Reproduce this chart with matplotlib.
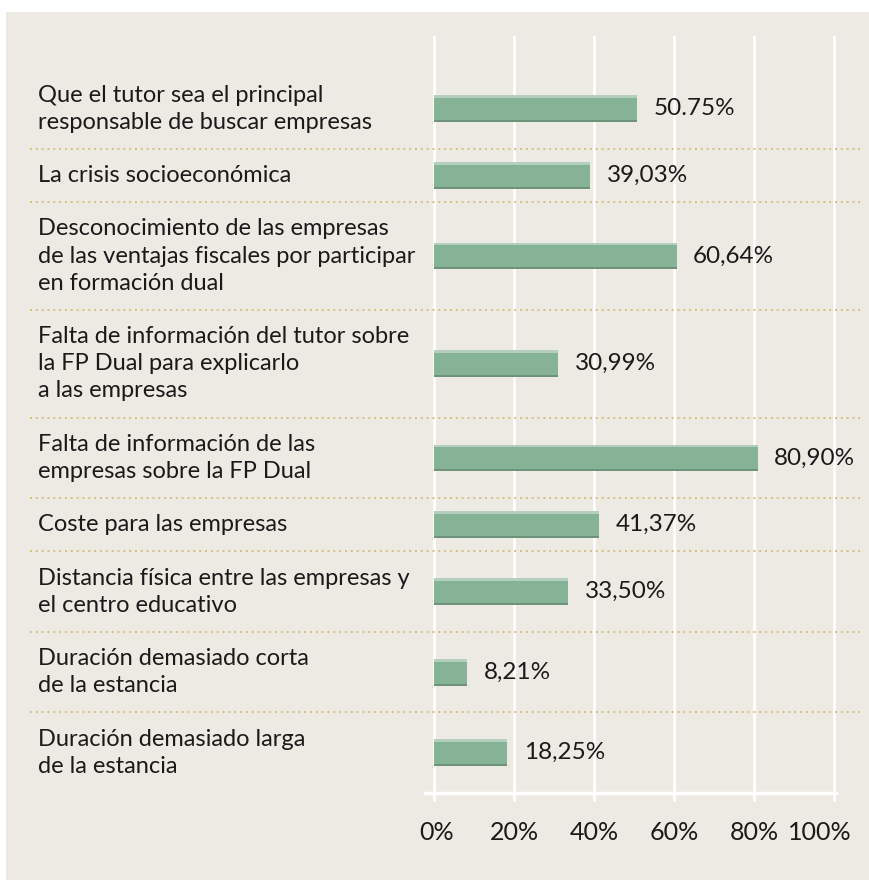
import matplotlib.pyplot as plt
from matplotlib.patches import Rectangle
from matplotlib.transforms import blended_transform_factory, ScaledTranslation

# data
categories = [
    "Que el tutor sea el principal\nresponsable de buscar empresas",
    "La crisis socioeconómica",
    "Desconocimiento de las empresas\nde las ventajas fiscales por participar\nen formación dual",
    "Falta de información del tutor sobre\nla FP Dual para explicarlo\na las empresas",
    "Falta de información de las\nempresas sobre la FP Dual",
    "Coste para las empresas",
    "Distancia física entre las empresas y\nel centro educativo",
    "Duración demasiado corta\nde la estancia",
    "Duración demasiado larga\nde la estancia",
]
values = [50.75, 39.03, 60.64, 30.99, 80.90, 41.37, 33.50, 8.21, 18.25]
value_labels = ["50.75%", "39,03%", "60,64%", "30,99%", "80,90%",
                "41,37%", "33,50%", "8,21%", "18,25%"]
xticks = [0, 20, 40, 60, 80, 100]
xtick_labels = ["0%", "20%", "40%", "60%", "80%", "100%"]

BG = "#EDE9E3"
GREEN = "#86B395"
TXT = "#1A1A1A"
DOT = "#D5BF80"

plt.rcParams['font.family'] = ['Lato', 'DejaVu Sans']

W, H = 870, 880
fig = plt.figure(figsize=(W / 100, H / 100), dpi=100, facecolor="white")
fig.patches.append(Rectangle((6 / W, 0), 1, (H - 12) / H, transform=fig.transFigure,
                             facecolor=BG, edgecolor="none", zorder=-10))

# axes box in pixels
left_px, right_px, top_px, bot_px = 425, 836, 36, 793
ax = fig.add_axes([left_px / W, 1 - bot_px / H, (right_px - left_px) / W, (bot_px - top_px) / H])
ax.set_facecolor("none")

# row heights follow the number of label lines
pad = 0.96
top_pad = 1.19
heights = [c.count("\n") + 1 + pad for c in categories]
edges = [top_pad]
for h in heights:
    edges.append(edges[-1] + h)
centers = [(edges[i] + edges[i + 1]) / 2 for i in range(len(categories))]

ax.set_xlim(-2.25, 100.5)
ax.set_ylim(edges[-1], 0)

bh = 0.98
ax.barh(centers, values, height=bh, color=GREEN, edgecolor="none", zorder=3)
# bevel look: light top strip, darker bottom strip
ax.barh([c - bh / 2 + 0.05 for c in centers], values, height=0.10, color="#B4CFBD",
        edgecolor="none", zorder=4)
ax.barh([c + bh / 2 - 0.035 for c in centers], values, height=0.07, color="#6F927B",
        edgecolor="none", zorder=4)

for c, v, lab in zip(centers, values, value_labels):
    ax.annotate(lab, (v, c), xytext=(12, 0), textcoords="offset points",
                va="center", ha="left", fontsize=17.5, color=TXT)

trans = blended_transform_factory(fig.transFigure, ax.transData)
for c, lab in zip(centers, categories):
    ax.text(38 / W, c, lab, transform=trans, ha="left", va="center",
            fontsize=17, color=TXT, linespacing=1.36)

for e in edges[1:-1]:
    ax.plot([30 / W, 860 / W], [e, e], transform=trans, color=DOT, lw=1.4,
            linestyle=(0, (1, 2)), clip_on=False, zorder=2)

ax.set_xticks(xticks)
ax.set_xticklabels(xtick_labels, fontsize=18, color=TXT)
ax.set_yticks([])
ax.grid(axis="x", color="white", lw=2, zorder=1)
ax.tick_params(axis="x", colors="white", length=6, width=2, pad=14, labelcolor=TXT)
for s in ["top", "right", "left"]:
    ax.spines[s].set_visible(False)
ax.spines["bottom"].set_color("white")
ax.spines["bottom"].set_linewidth(2.5)

# nudge the end labels inwards like the original
tl = ax.get_xticklabels()
tl[0].set_transform(tl[0].get_transform() + ScaledTranslation(0.03, 0, fig.dpi_scale_trans))
tl[-1].set_transform(tl[-1].get_transform() + ScaledTranslation(-0.14, 0, fig.dpi_scale_trans))

fig.savefig("out.png", dpi=100, facecolor=fig.get_facecolor())
